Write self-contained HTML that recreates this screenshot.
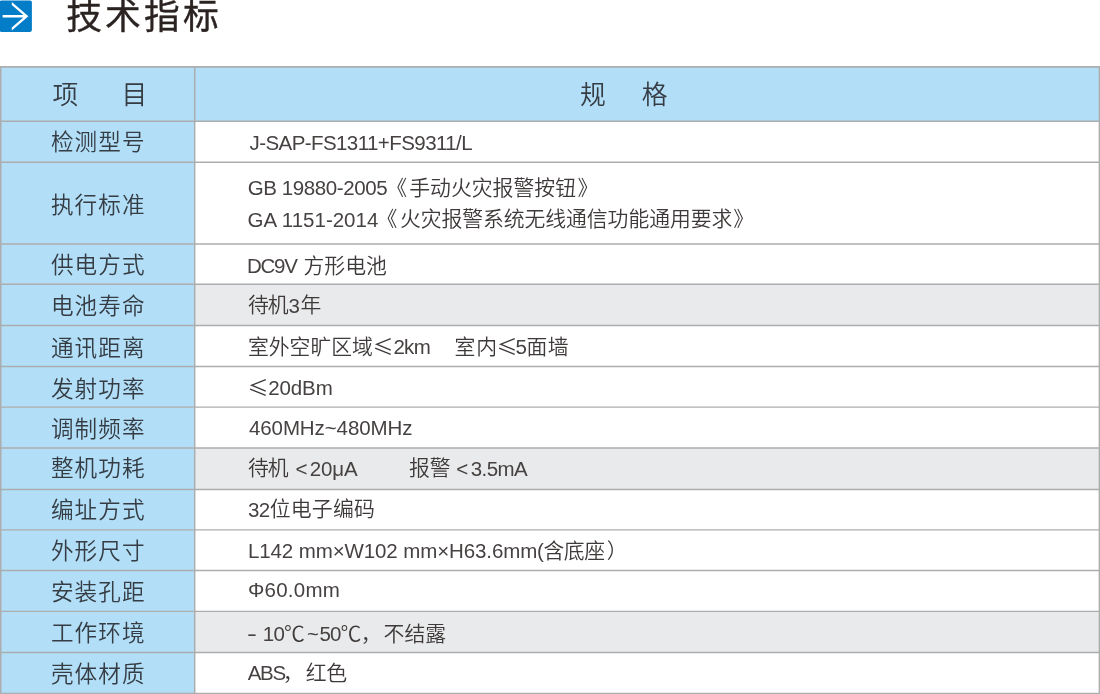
<!DOCTYPE html>
<html lang="zh-CN">
<head>
<meta charset="utf-8">
<title>技术指标</title>
<style>
html,body{margin:0;padding:0;background:#fff;}
body{width:1100px;height:694px;position:relative;overflow:hidden;font-family:"Liberation Sans","Noto Sans CJK SC",sans-serif;color:#3e3a39;}
.icon{position:absolute;left:0;top:0;width:32px;height:32px;}
h1{position:absolute;left:66.2px;top:-9.9px;margin:0;font-size:35.8px;line-height:54px;font-weight:400;-webkit-text-stroke:0.35px #2a2321;letter-spacing:3.1px;white-space:nowrap;color:#2a2321;}
.table{position:absolute;left:0;top:0;width:1100px;height:694px;}
.row{position:absolute;left:0;width:1100px;}
.th{position:absolute;top:0;height:100%;background:#b2dff7;}
.val{position:absolute;top:0;background:#fff;}
.val.gray{background:#e9eaeb;}
.grid{position:absolute;left:0;top:0;width:1100px;height:694px;}
.lab{position:absolute;left:0;top:0;width:195.6px;background:#b2dff7;text-align:center;font-size:22.6px;letter-spacing:1.15px;text-indent:1.15px;color:#353c44;white-space:nowrap;font-weight:350;}
.hd{position:absolute;font-size:25.8px;font-weight:350;color:#353c44;white-space:nowrap;line-height:40px;}
.s{position:absolute;white-space:pre;line-height:40px;}
.L{font-size:20.5px;font-weight:400;color:#464241;}
.C{font-size:20.85px;font-weight:350;}
.S{font-size:20.85px;font-weight:350;font-family:"Noto Sans CJK SC",sans-serif;}
</style>
</head>
<body>
<svg class="icon" viewBox="0 0 32 32"><rect x="-0.3" y="0.4" width="32.2" height="31.5" rx="1.8" fill="#047dc8"/><path d="M2.6 15.05H26V17.55H2.6Z M11.8 2L28.4 16.3L11.8 30.6V27.5L24.8 16.3L11.8 5.1Z" fill="#fff"/></svg>
<h1>技术指标</h1>
<div class="table">
<div class="row head" style="top:66.9px;height:54.30px">
<div class="th" style="left:0;width:194.7px"><span class="hd" style="left:52.5px;top:8.10px">项</span><span class="hd" style="left:121.5px;top:8.10px">目</span></div>
<div class="th" style="left:194.7px;width:905.3px"><span class="hd" style="left:385.3px;top:8.10px">规</span><span class="hd" style="left:447.1px;top:8.10px">格</span></div>
</div>
<div class="row" style="top:121.20px;height:41.10px">
<div class="lab" style="height:41.10px;line-height:44.90px">检测型号</div>
<div class="val" style="left:194.7px;width:905.3px;height:41.10px"><span class="s L" style="left:54.80px;top:1.60px;letter-spacing:-0.57px">J-SAP-FS1311+FS9311/L</span></div>
</div>
<div class="row" style="top:162.30px;height:81.70px">
<div class="lab" style="height:81.70px;line-height:87.84px">执行标准</div>
<div class="val" style="left:194.7px;width:905.3px;height:81.70px"><span class="s L" style="left:53.05px;top:5.60px;letter-spacing:-0.40px">GB 19880-2005</span><span class="s C" style="left:191.65px;top:5.48px">《</span><span class="s C" style="left:214.55px;top:5.48px">手动火灾报警按钮</span><span class="s C" style="left:382.80px;top:5.48px">》</span><span class="s L" style="left:52.93px;top:37.30px">GA 1151-2014</span><span class="s C" style="left:181.85px;top:37.18px">《</span><span class="s C" style="left:205.30px;top:37.18px;letter-spacing:-0.08px">火灾报警系统无线通信功能通用要求</span><span class="s C" style="left:538.50px;top:37.18px">》</span></div>
</div>
<div class="row" style="top:244.00px;height:40.30px">
<div class="lab" style="height:40.30px;line-height:44.10px">供电方式</div>
<div class="val" style="left:194.7px;width:905.3px;height:40.30px"><span class="s L" style="left:52.35px;top:1.70px;letter-spacing:-1.30px">DC9V</span><span class="s C" style="left:108.75px;top:1.58px">方形电池</span></div>
</div>
<div class="row" style="top:284.30px;height:41.20px">
<div class="lab" style="height:41.20px;line-height:46.20px">电池寿命</div>
<div class="val gray" style="left:194.7px;width:905.3px;height:41.20px"><span class="s C" style="left:53.30px;top:1.18px;letter-spacing:-1.00px">待机</span><span class="s L" style="left:93.80px;top:1.30px">3</span><span class="s C" style="left:105.80px;top:1.18px">年</span></div>
</div>
<div class="row" style="top:325.50px;height:41.00px">
<div class="lab" style="height:41.00px;line-height:46.00px">通讯距离</div>
<div class="val" style="left:194.7px;width:905.3px;height:41.00px"><span class="s C" style="left:53.20px;top:1.38px">室外空旷区域</span><span class="s S" style="left:178.00px;top:-0.49px">≤</span><span class="s L" style="left:198.70px;top:1.50px;letter-spacing:-0.70px">2km</span><span class="s C" style="left:259.80px;top:1.38px;letter-spacing:1.00px">室内</span><span class="s S" style="left:302.05px;top:-0.49px">≤</span><span class="s L" style="left:320.80px;top:1.50px">5</span><span class="s C" style="left:331.80px;top:1.38px;letter-spacing:0.50px">面墙</span></div>
</div>
<div class="row" style="top:366.50px;height:40.60px">
<div class="lab" style="height:40.60px;line-height:45.80px">发射功率</div>
<div class="val" style="left:194.7px;width:905.3px;height:40.60px"><span class="s S" style="left:53.00px;top:-0.69px">≤</span><span class="s L" style="left:73.60px;top:1.30px;letter-spacing:-0.12px">20dBm</span></div>
</div>
<div class="row" style="top:407.10px;height:40.90px">
<div class="lab" style="height:40.90px;line-height:46.10px">调制频率</div>
<div class="val" style="left:194.7px;width:905.3px;height:40.90px"><span class="s L" style="left:54.30px;top:1.40px;letter-spacing:-0.10px">460MHz~480MHz</span></div>
</div>
<div class="row" style="top:448.00px;height:41.50px">
<div class="lab" style="height:41.50px;line-height:42.10px">整机功耗</div>
<div class="val gray" style="left:194.7px;width:905.3px;height:41.50px"><span class="s C" style="left:53.30px;top:0.38px;letter-spacing:-1.00px">待机</span><span class="s L" style="left:100.75px;top:0.50px">&lt;</span><span class="s L" style="left:115.00px;top:0.50px;letter-spacing:-0.13px">20μA</span><span class="s C" style="left:214.30px;top:0.38px">报警</span><span class="s L" style="left:261.45px;top:0.50px">&lt;</span><span class="s L" style="left:276.10px;top:0.50px;letter-spacing:-0.58px">3.5mA</span></div>
</div>
<div class="row" style="top:489.50px;height:40.40px">
<div class="lab" style="height:40.40px;line-height:42.60px">编址方式</div>
<div class="val" style="left:194.7px;width:905.3px;height:40.40px"><span class="s L" style="left:53.30px;top:0.10px;letter-spacing:-0.70px">32</span><span class="s C" style="left:75.00px;top:-0.02px;letter-spacing:0.23px">位电子编码</span></div>
</div>
<div class="row" style="top:529.90px;height:40.60px">
<div class="lab" style="height:40.60px;line-height:44.40px">外形尺寸</div>
<div class="val" style="left:194.7px;width:905.3px;height:40.60px"><span class="s L" style="left:53.30px;top:1.50px;letter-spacing:-0.11px">L142 mm×W102 mm×H63.6mm(</span><span class="s C" style="left:348.80px;top:1.38px;letter-spacing:-0.50px">含底座</span><span class="s C" style="left:412.05px;top:1.38px">）</span></div>
</div>
<div class="row" style="top:570.50px;height:40.90px">
<div class="lab" style="height:40.90px;line-height:44.70px">安装孔距</div>
<div class="val" style="left:194.7px;width:905.3px;height:40.90px"><span class="s L" style="left:53.30px;top:-0.60px;letter-spacing:0.23px">Φ60.0mm</span></div>
</div>
<div class="row" style="top:611.40px;height:41.10px">
<div class="lab" style="height:41.10px;line-height:46.10px">工作环境</div>
<div class="val gray" style="left:194.7px;width:905.3px;height:41.10px"><span class="s L" style="left:52.75px;top:2.40px;transform:scaleX(1.45);transform-origin:0 50%">-</span><span class="s L" style="left:68.00px;top:2.40px;letter-spacing:-0.60px">10</span><span class="s C" style="left:89.35px;top:2.28px">℃</span><span class="s L" style="left:112.40px;top:2.40px">~</span><span class="s L" style="left:124.80px;top:2.40px;letter-spacing:-1.00px">50</span><span class="s C" style="left:145.90px;top:2.28px">℃</span><span class="s C" style="left:166.15px;top:2.28px">，</span><span class="s C" style="left:188.85px;top:2.28px">不结露</span></div>
</div>
<div class="row" style="top:652.50px;height:40.90px">
<div class="lab" style="height:40.90px;line-height:44.70px">壳体材质</div>
<div class="val" style="left:194.7px;width:905.3px;height:40.90px"><span class="s L" style="left:53.05px;top:0.90px;letter-spacing:-1.30px">ABS</span><span class="s C" style="left:88.15px;top:0.78px">，</span><span class="s C" style="left:111.10px;top:0.78px;letter-spacing:-0.40px">红色</span></div>
</div>
<svg class="grid" viewBox="0 0 1100 694" stroke="#acadae" fill="none"><line x1="0" y1="66.90" x2="1100" y2="66.90" stroke-width="1.6"/><line x1="0" y1="121.20" x2="1100" y2="121.20" stroke-width="1.4"/><line x1="0" y1="162.30" x2="1100" y2="162.30" stroke-width="1.4"/><line x1="0" y1="244.00" x2="1100" y2="244.00" stroke-width="1.4"/><line x1="0" y1="284.30" x2="1100" y2="284.30" stroke-width="1.4"/><line x1="0" y1="325.50" x2="1100" y2="325.50" stroke-width="1.4"/><line x1="0" y1="366.50" x2="1100" y2="366.50" stroke-width="1.4"/><line x1="0" y1="407.10" x2="1100" y2="407.10" stroke-width="1.4"/><line x1="0" y1="448.00" x2="1100" y2="448.00" stroke-width="1.4"/><line x1="0" y1="489.50" x2="1100" y2="489.50" stroke-width="1.4"/><line x1="0" y1="529.90" x2="1100" y2="529.90" stroke-width="1.4"/><line x1="0" y1="570.50" x2="1100" y2="570.50" stroke-width="1.4"/><line x1="0" y1="611.40" x2="1100" y2="611.40" stroke-width="1.4"/><line x1="0" y1="652.50" x2="1100" y2="652.50" stroke-width="1.4"/><line x1="0" y1="693.40" x2="1100" y2="693.40" stroke-width="1.4"/><line x1="0.75" y1="66.10" x2="0.75" y2="694" stroke-width="1.5"/><line x1="194.7" y1="66.10" x2="194.7" y2="694" stroke-width="1.5"/><line x1="1099.4" y1="66.10" x2="1099.4" y2="694" stroke-width="1.5"/></svg>
</div>
</body>
</html>
